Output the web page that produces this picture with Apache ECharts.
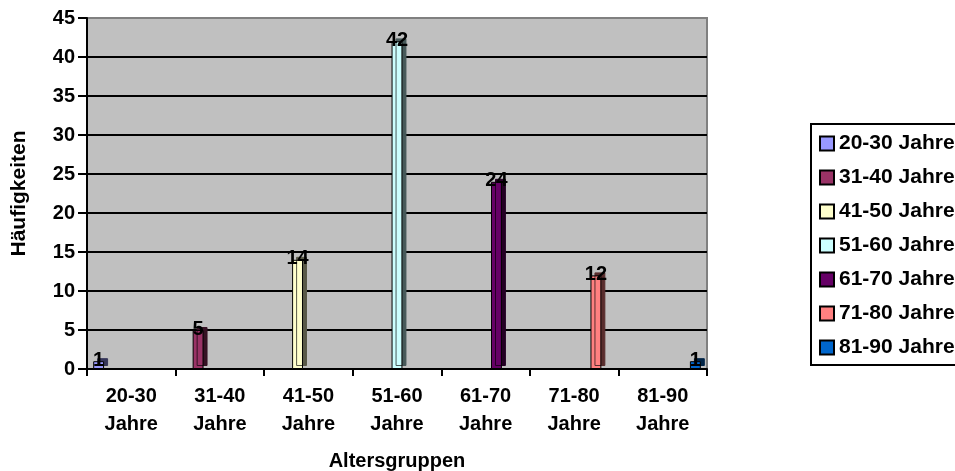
<!DOCTYPE html>
<html>
<head>
<meta charset="utf-8">
<script src="https://cdn.jsdelivr.net/npm/echarts@6/dist/echarts.min.js"></script>
<style>
  html, body { margin: 0; padding: 0; background: #fff; }
  #chart { width: 955px; height: 471px; }
</style>
</head>
<body>
<div id="chart"></div>
<script>
// Age groups, their counts and the bar colours
const ageGroups = ['20-30 Jahre', '31-40 Jahre', '41-50 Jahre', '51-60 Jahre', '61-70 Jahre', '71-80 Jahre', '81-90 Jahre'];
const counts = [1, 5, 14, 42, 24, 12, 1];
const barColors = ['#9999FF', '#993366', '#FFFFCC', '#CCFFFF', '#660066', '#FF8080', '#0066CC'];
const yTicks = { min: 0, max: 45, step: 5 };

const FONT = '"Liberation Sans", Arial, sans-serif';

// darker shade of a hex colour, used for the side face of each bar
function shade(hex, f) {
  const n = parseInt(hex.slice(1), 16);
  const r = Math.round(((n >> 16) & 255) * f);
  const g = Math.round(((n >> 8) & 255) * f);
  const b = Math.round((n & 255) * f);
  return 'rgb(' + r + ',' + g + ',' + b + ')';
}

// one series per age group, each holding a single value in its own category;
// a hard offset shadow in a darker shade gives the bars their side face
const series = ageGroups.map((name, i) => ({
  name: name,
  type: 'bar',
  barGap: '0%',
  barCategoryGap: '14%',
  data: ageGroups.map((_, j) => (j === i ? counts[i] : '-')),
  itemStyle: {
    color: barColors[i],
    borderColor: '#000',
    borderWidth: 1,
    shadowColor: shade(barColors[i], 0.35),
    shadowBlur: 0,
    shadowOffsetX: 4,
    shadowOffsetY: -3
  },
  label: {
    show: true,
    position: 'top',
    distance: -9,
    color: '#000',
    fontFamily: FONT,
    fontWeight: 'bold',
    fontSize: 20
  }
}));

// split lines: black inside the plot, grey along the top edge
const nLines = (yTicks.max - yTicks.min) / yTicks.step + 1;
const splitColors = Array.from({ length: nLines }, (_, k) => (k === nLines - 1 ? '#808080' : '#000'));

const chart = echarts.init(document.getElementById('chart'), null, { renderer: 'canvas' });
chart.setOption({
  animation: false,
  backgroundColor: '#fff',
  textStyle: { fontFamily: FONT },
  grid: {
    left: 87, right: 248, top: 18, bottom: 102,
    containLabel: false,
    outerBoundsMode: 'none',
    show: true,
    backgroundColor: '#C0C0C0',
    borderColor: '#808080',
    borderWidth: 2
  },
  legend: {
    orient: 'vertical',
    left: 811,
    top: 124,
    padding: [9, 8, 7, 8],
    borderColor: '#000',
    borderWidth: 2,
    itemWidth: 14,
    itemHeight: 14,
    itemGap: 13,
    icon: 'rect',
    itemStyle: { borderColor: '#000', borderWidth: 2, shadowColor: 'transparent' },
    textStyle: { fontFamily: FONT, fontWeight: 'bold', fontSize: 21, lineHeight: 21, color: '#000' },
    data: ageGroups
  },
  xAxis: {
    type: 'category',
    data: ageGroups,
    name: 'Altersgruppen',
    nameLocation: 'middle',
    nameGap: 82,
    nameTextStyle: { fontFamily: FONT, fontWeight: 'bold', fontSize: 20, color: '#000' },
    axisLine: { lineStyle: { color: '#000', width: 2 } },
    axisTick: { show: true, length: 7, lineStyle: { color: '#000', width: 2 } },
    axisLabel: {
      margin: 13,
      interval: 0,
      color: '#000',
      fontFamily: FONT,
      fontWeight: 'bold',
      fontSize: 20,
      lineHeight: 28,
      formatter: v => v.replace(' ', '\n')
    }
  },
  yAxis: {
    type: 'value',
    min: yTicks.min,
    max: yTicks.max,
    interval: yTicks.step,
    name: 'Häufigkeiten',
    nameLocation: 'middle',
    nameGap: 57,
    nameTextStyle: { fontFamily: FONT, fontWeight: 'bold', fontSize: 21, color: '#000' },
    axisLine: { show: true, lineStyle: { color: '#000', width: 2 } },
    axisTick: { show: true, length: 9, lineStyle: { color: '#000', width: 2 } },
    axisLabel: { margin: 12, color: '#000', fontFamily: FONT, fontWeight: 'bold', fontSize: 20 },
    splitLine: { show: true, lineStyle: { color: splitColors, width: 2 } }
  },
  series: series
});
</script>
</body>
</html>
